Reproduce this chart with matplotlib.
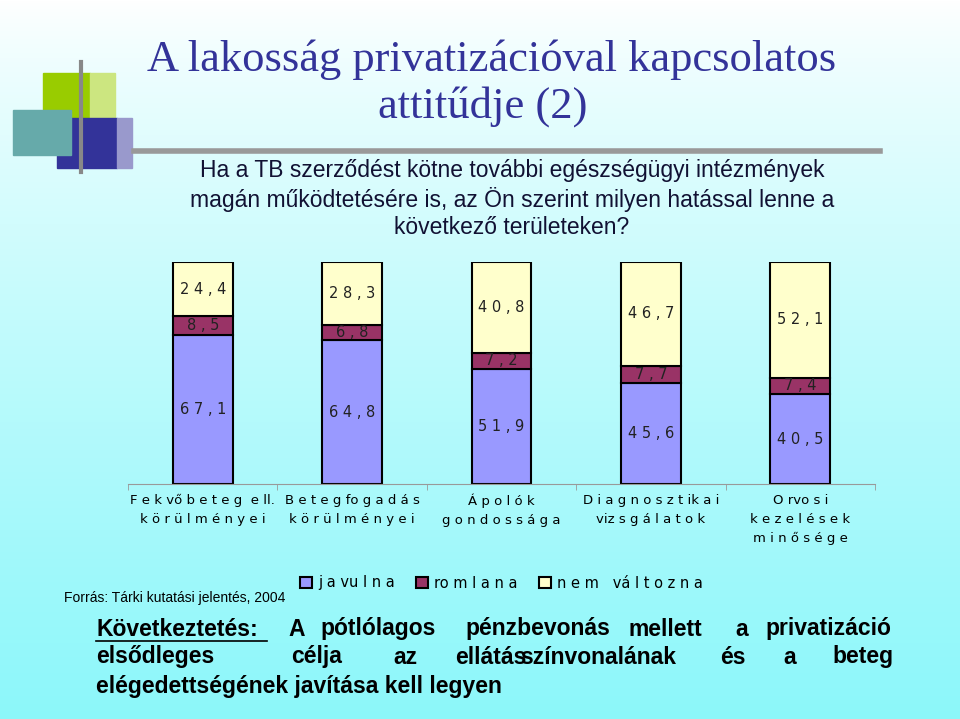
import matplotlib
matplotlib.use("Agg")
import matplotlib.pyplot as plt
import numpy as np
from matplotlib.patches import Rectangle

categories = ["F e k vő b e t e g  e ll.\nk ö r ü l m é n y e i",
              "B e t e g fo g a d á s\nk ö r ü l m é n y e i",
              "Á p o l ó k\ng o n d o s s á g a",
              "D i a g n o s z t ik a i\nviz s g á l a t o k",
              "O rvo s i\nk e z e l é s e k\nm i n ő s é g e"]
javulna = [67.1, 64.8, 51.9, 45.6, 40.5]
romlana = [8.5, 6.8, 7.2, 7.7, 7.4]
nem_valtozna = [24.4, 28.3, 40.8, 46.7, 52.1]
series_names = ["j a vu l n a", "ro m l a n a", "n e m   vá l t o z n a"]
colors = ["#9999FF", "#993366", "#FFFFCC"]

def fmt(v):
    return " ".join(f"{v:.1f}".replace(".", ","))

W, H = 960, 719
fig = plt.figure(figsize=(W/100, H/100), dpi=100)
bg = fig.add_axes([0, 0, 1, 1])
grad = np.linspace(0, 1, 256)[:, None]
top = np.array([1.0, 1.0, 1.0]); bot = np.array([0.55, 0.97, 0.98])
img = top + (bot - top) * grad[..., None] ** 0.8
img = np.repeat(img, 2, axis=1)
bg.imshow(img, aspect="auto", extent=[0, W, H, 0])
bg.set_xlim(0, W); bg.set_ylim(H, 0); bg.axis("off")

# logo
bg.add_patch(Rectangle((43, 73), 47, 45, color="#99CC00"))
bg.add_patch(Rectangle((90, 73), 25, 45, color="#cce680"))
bg.add_patch(Rectangle((57, 118), 60, 50, color="#333399"))
bg.add_patch(Rectangle((117, 118), 15, 50, color="#9999cc"))
bg.add_patch(Rectangle((13, 110), 58, 45, color="#66aaaa"))
bg.plot([81, 81], [62, 172], color="#888888", lw=3)
bg.plot([134, 880], [151, 151], color="#999999", lw=4)

bg.text(492, 60, "A lakosság privatizációval kapcsolatos", fontsize=32, color="#333399",
        family="Liberation Serif", ha="center", va="center")
bg.text(483, 107, "attitűdje (2)", fontsize=32, color="#333399",
        family="Liberation Serif", ha="center", va="center")
bg.text(512, 199, "Ha a TB szerződést kötne további egészségügyi intézmények\nmagán működtetésére is, az Ön szerint milyen hatással lenne a\nkövetkező területeken?",
        fontsize=16.5, color="#111133", ha="center", va="center", family="Liberation Sans", linespacing=1.25)
bg.text(64, 598, "Forrás: Tárki kutatási jelentés, 2004", fontsize=10, family="Liberation Sans", va="center")
kw = dict(fontsize=16.5, weight="bold", family="Liberation Sans", va="center")
bg.text(96, 629, "Következtetés:", **kw)
bg.plot([96, 267], [641, 641], color="black", lw=1.2)
line1 = ["A", "pótlólagos", "pénzbevonás", "mellett", "a", "privatizáció"]
for t, x in zip(line1, [288, 320, 465, 628, 735, 765]):
    bg.text(x, 629, t, **kw)
line2 = ["elsődleges", "célja", "az", "ellátás", "színvonalának", "és", "a", "beteg"]
for t, x in zip(line2, [96, 291, 393, 455, 520, 720, 783, 832]):
    bg.text(x, 657, t, **kw)
bg.text(96, 686, "elégedettségének javítása kell legyen", **kw)

ax = fig.add_axes([128/W, 1-484/H, (875-128)/W, 222/H])
ax.set_facecolor("none")
x = np.arange(len(categories))
b = np.zeros(len(x))
for vals, c, name in zip([javulna, romlana, nem_valtozna], colors, series_names):
    ax.bar(x, vals, bottom=b, width=0.4, color=c, edgecolor="black", lw=1.5, label=name)
    for xi, bi, v in zip(x, b, vals):
        ax.text(xi, bi + v/2, fmt(v), ha="center", va="center", fontsize=10.5, color="#222222")
    b = b + np.array(vals)
ax.set_xlim(-0.5, 4.5); ax.set_ylim(0, 100)
for s in ["top", "right", "left"]:
    ax.spines[s].set_visible(False)
ax.spines["bottom"].set_color("#999999")
ax.set_yticks([])
ax.set_xticks(np.arange(-0.5, 5, 1), minor=True)
ax.tick_params(axis="x", which="minor", length=4, color="#999999")
ax.tick_params(axis="x", which="major", length=0, pad=7)
ax.set_xticks(x); ax.set_xticklabels(categories, fontsize=9.5, linespacing=1.6)
ax.legend(loc="center", bbox_to_anchor=(0.5, -(583-484)/222),
          ncol=3, frameon=False, fontsize=10.5, handlelength=0.8, handleheight=0.8,
          columnspacing=1.5, handletextpad=0.4)
fig.savefig("out.png", dpi=100)
